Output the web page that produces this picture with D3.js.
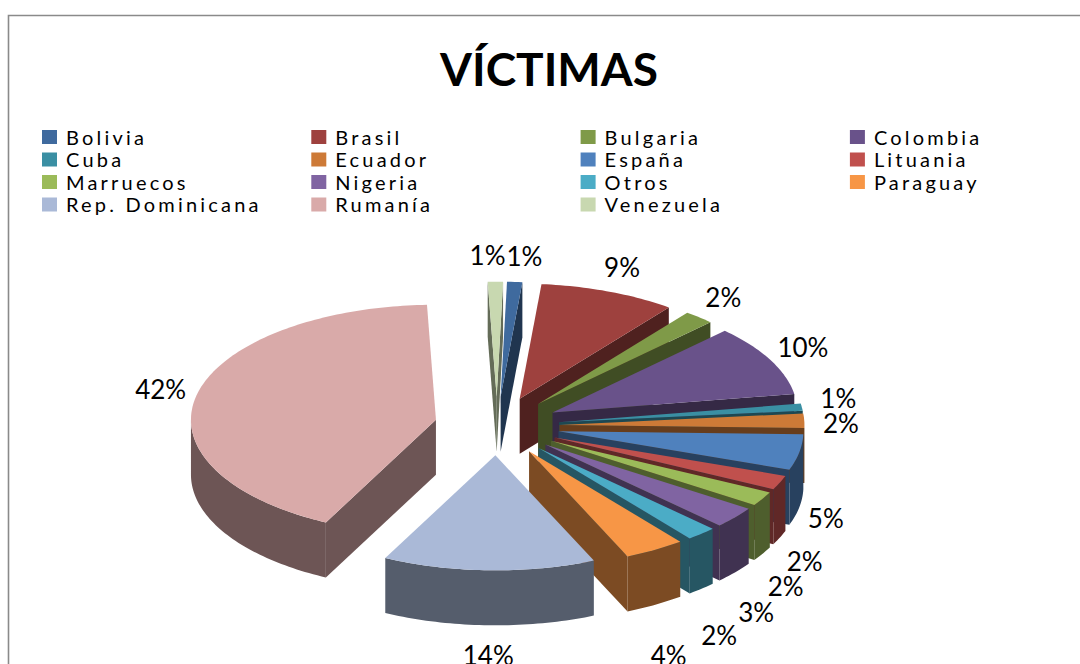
<!DOCTYPE html>
<html>
<head>
<meta charset="utf-8">
<script src="https://cdn.jsdelivr.net/npm/d3@7"></script>
<style>
  body { margin: 0; background: #fff; }
  svg { display: block; font-family: Lato, "Open Sans", sans-serif; }
</style>
</head>
<body>
<div id="chart"></div>
<script>
// data (share of victims, %)
const countries = ["Bolivia", "Brasil", "Bulgaria", "Colombia", "Cuba", "Ecuador", "España", "Lituania",
  "Marruecos", "Nigeria", "Otros", "Paraguay", "Rep. Dominicana", "Rumanía", "Venezuela"];
const victims = [1, 9, 2, 10, 1, 2, 5, 2, 2, 3, 2, 4, 14, 42, 1];
const title = "VÍCTIMAS";

// excel 2007 style palette
const palette = ["#3F6A9E", "#9E413E", "#7F9A48", "#69528A", "#3A8FA3", "#CD7A37", "#4F81BD", "#C0504D",
  "#9BBB59", "#8064A2", "#4BACC6", "#F79646", "#AAB9D7", "#D9AAA9", "#C8D8B0"];

const width = 1080, height = 664;
const cx = 497, cy = 426, rx = 245, ry = 115, depth = 55, explode = 0.255;
const startAngle = 1.5 * Math.PI / 180;

const svg = d3.select("#chart").append("svg")
  .attr("width", width)
  .attr("height", height);

// chart frame
svg.append("path")
  .attr("d", "M8.5,664V15.5H1080")
  .attr("fill", "none")
  .attr("stroke", "#8a8a8a")
  .attr("stroke-width", 1.6);

svg.append("text")
  .attr("x", 549)
  .attr("y", 86)
  .attr("text-anchor", "middle")
  .attr("font-size", 46)
  .attr("font-weight", "bold")
  .text(title);

// legend, 4 columns
const legend = svg.append("g")
  .selectAll("g")
  .data(countries)
  .join("g")
  .attr("transform", (d, i) => `translate(${42 + (i % 4) * 269.3},${130 + Math.floor(i / 4) * 22.5})`);

legend.append("rect")
  .attr("width", 15)
  .attr("height", 14)
  .attr("fill", (d, i) => palette[i]);

legend.append("text")
  .attr("x", 24)
  .attr("y", 14.5)
  .attr("font-size", 20)
  .attr("letter-spacing", 3.2)
  .text(d => d);

// 3d pie
const pie = d3.pie().sort(null)
  .startAngle(startAngle)
  .endAngle(startAngle + 2 * Math.PI);

const total = d3.sum(victims);
const slices = pie(victims).map((a, i) => {
  a.name = countries[i];
  a.color = palette[i];
  a.mid = (a.startAngle + a.endAngle) / 2;
  a.ox = cx + explode * rx * Math.sin(a.mid);
  a.oy = cy - explode * ry * Math.cos(a.mid);
  return a;
});

const pt = (a, t, z) => [a.ox + rx * Math.sin(t), a.oy - ry * Math.cos(t) + z];
const rim = (a, t0, t1, z) => {
  const n = Math.max(2, Math.ceil(Math.abs(t1 - t0) / 0.02));
  return d3.range(n + 1).map(k => pt(a, t0 + (t1 - t0) * k / n, z));
};
const line = d3.line();
const shade = c => { const r = d3.rgb(c); return d3.rgb(r.r * 0.5, r.g * 0.5, r.b * 0.5).toString(); };

// back to front
const order = slices.slice().sort((p, q) => p.oy - q.oy);

const g = svg.append("g");
order.forEach(a => {
  const s = g.append("g");
  const side = shade(a.color);
  const apexTop = [a.ox, a.oy], apexBot = [a.ox, a.oy + depth];

  // radial walls
  if (Math.sin(a.startAngle) < 0) {
    s.append("path")
      .attr("d", line([apexTop, pt(a, a.startAngle, 0), pt(a, a.startAngle, depth), apexBot]) + "Z")
      .attr("fill", side);
  }
  if (Math.sin(a.endAngle) > 0) {
    s.append("path")
      .attr("d", line([apexTop, pt(a, a.endAngle, 0), pt(a, a.endAngle, depth), apexBot]) + "Z")
      .attr("fill", side);
  }

  // outer wall, front half only
  const t0 = Math.max(a.startAngle, Math.PI / 2), t1 = Math.min(a.endAngle, 3 * Math.PI / 2);
  if (t1 > t0) {
    s.append("path")
      .attr("d", line(rim(a, t0, t1, 0).concat(rim(a, t1, t0, depth))) + "Z")
      .attr("fill", side);
  }

  // top face
  s.append("path")
    .attr("d", line([apexTop].concat(rim(a, a.startAngle, a.endAngle, 0))) + "Z")
    .attr("fill", a.color);
});

// percent labels, outside the rim (below the wall for front slices)
const fmt = d3.format(".0%");
const labels = slices.map(a => {
  const c = Math.cos(a.mid), sn = Math.sin(a.mid);
  return c < 0
    ? { a, x: a.ox + rx * 1.11 * sn, y: a.oy - ry * 1.55 * c + depth }
    : { a, x: a.ox + rx * 1.15 * sn, y: a.oy - ry * 1.22 * c };
});

const lab = svg.append("g")
  .selectAll("text")
  .data(labels)
  .join("text")
  .attr("text-anchor", "middle")
  .attr("dy", "0.35em")
  .attr("font-size", 26)
  .text(d => fmt(d.a.data / total));

lab.each(function (d) { d.w = this.getComputedTextLength(); });

// push overlapping labels apart
for (let it = 0; it < 60; it++) {
  for (let i = 0; i < labels.length; i++) {
    for (let j = i + 1; j < labels.length; j++) {
      const p = labels[i], q = labels[j];
      const dx = q.x - p.x, dy = q.y - p.y;
      const ox = (p.w + q.w) / 2 + 1 - Math.abs(dx);
      const oy = 25 - Math.abs(dy);
      if (ox > 0 && oy > 0) {
        if (ox < oy) {
          const sx = dx >= 0 ? 1 : -1;
          p.x -= sx * ox / 2; q.x += sx * ox / 2;
        } else {
          const sy = dy >= 0 ? 1 : -1;
          p.y -= sy * oy / 2; q.y += sy * oy / 2;
        }
      }
    }
  }
  labels.forEach(d => { d.y = Math.min(d.y, height - 8); });
}

lab.attr("x", d => d.x).attr("y", d => d.y);
</script>
</body>
</html>
